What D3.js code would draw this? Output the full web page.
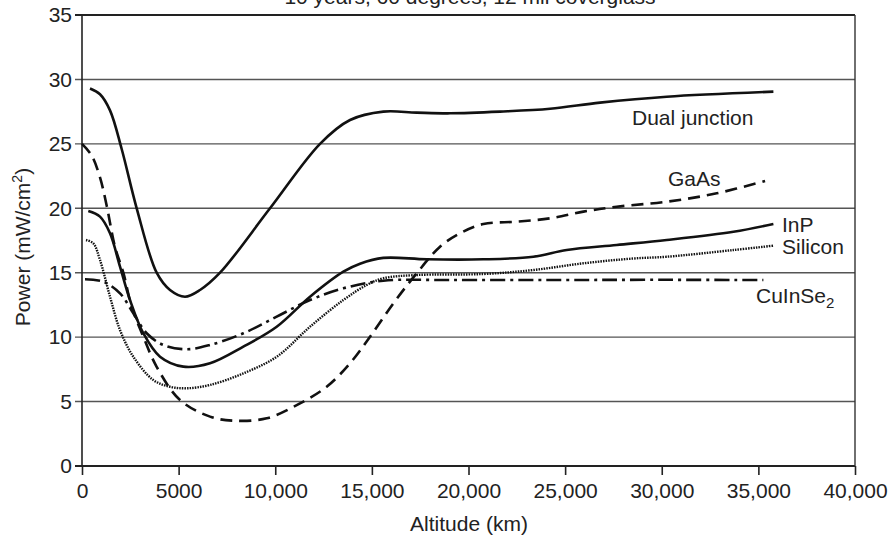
<!DOCTYPE html>
<html lang="en">
  <head>
    <meta charset="utf-8">
    <title>Power vs altitude</title>
    <style>
     body { margin: 0; background: #fff; }
     svg text { font-family: "Liberation Sans", Arial, sans-serif; fill: #222; }
    </style>
  </head>
  <body>
    <div id="plot"></div>
    <script src="https://d3js.org/d3.v7.min.js"></script>
    <script>
     // altitude (km) / power (mW/cm2)
     var dualKm = [414, 931, 1449, 2053, 2830, 3864, 4554, 5330, 6107, 7142, 9729, 12317, 13869, 15593, 17318, 19044, 21632, 24220, 26808, 30258, 35777];
     var dualP  = [29.3, 28.85, 27.6, 24.6, 20.0, 15.0, 13.66, 13.14, 13.66, 15.0, 20.0, 25.0, 26.85, 27.5, 27.42, 27.37, 27.5, 27.72, 28.2, 28.66, 29.05];

     var gaasKm = [0, 500, 931, 1278, 1707, 2139, 2570, 3174, 3864, 5071, 6624, 7831, 9557, 11282, 12662, 13869, 14904, 16110, 17318, 18527, 19562, 20769, 22494, 24220, 25945, 27670, 30258, 32845, 35346];
     var gaasP  = [25.0, 24.1, 22.4, 20.2, 17.0, 15.0, 12.36, 10.03, 7.7, 5.12, 3.83, 3.52, 3.7, 4.86, 6.15, 7.97, 10.03, 12.62, 14.95, 17.02, 18.06, 18.78, 18.96, 19.22, 19.74, 20.12, 20.51, 21.16, 22.12];

     var inpKm = [326, 931, 1449, 1967, 2484, 3174, 4037, 5243, 6624, 8349, 10075, 11800, 13524, 14387, 15593, 17836, 20769, 23357, 25083, 27670, 30258, 33710, 35777];
     var inpP  = [19.79, 19.35, 18.06, 15.47, 12.88, 10.3, 8.48, 7.71, 7.97, 9.26, 10.81, 13.14, 15.08, 15.7, 16.15, 16.04, 16.04, 16.24, 16.76, 17.15, 17.54, 18.18, 18.78];

     var siKm = [207, 585, 931, 1449, 1967, 2656, 3692, 4554, 5416, 6624, 8349, 10075, 11800, 13524, 14732, 15593, 17318, 20769, 23357, 25945, 28500, 30258, 33710, 35777];
     var siP  = [17.54, 17.28, 15.99, 13.14, 10.55, 8.48, 6.67, 6.15, 6.03, 6.29, 7.19, 8.48, 10.81, 12.88, 14.05, 14.57, 14.82, 14.9, 15.21, 15.73, 16.1, 16.24, 16.76, 17.1];

     var cisKm = [155, 1102, 1967, 2656, 3346, 4209, 5416, 6624, 8349, 10075, 11800, 13524, 15593, 19044, 24220, 29395, 35259];
     var cisP  = [14.49, 14.3, 13.4, 11.85, 10.3, 9.39, 9.06, 9.39, 10.3, 11.59, 12.88, 13.79, 14.38, 14.43, 14.43, 14.45, 14.43];

     var xTicks = [0, 5000, 10000, 15000, 20000, 25000, 30000, 35000, 40000];
     var yTicks = [0, 5, 10, 15, 20, 25, 30, 35];

     var series = [
       { km: dualKm, p: dualP, dash: null, width: 2.6 },
       { km: gaasKm, p: gaasP, dash: "12,7", width: 2.6 },
       { km: inpKm, p: inpP, dash: null, width: 2.6 },
       { km: siKm, p: siP, dash: "1.5,1.1", width: 2.4 },
       { km: cisKm, p: cisP, dash: "15,5,3,5", width: 2.6 }
     ];

     var W = 891, H = 537,
         margin = {top: 15, right: 36, bottom: 71, left: 82},
         w = W - margin.left - margin.right,
         h = H - margin.top - margin.bottom;

     var svg = d3.select("#plot").append("svg")
                 .attr("width", W).attr("height", H);

     // title is cropped at the top edge, as in the source figure
     svg.append("text")
        .attr("x", 470).attr("y", 4)
        .attr("text-anchor", "middle")
        .style("font-size", "21px")
        .text("10 years, 60 degrees, 12 mil coverglass");

     var g = svg.append("g").attr("transform", "translate(" + margin.left + "," + margin.top + ")");

     var x = d3.scaleLinear().domain([0, 40000]).range([0, w]);
     var y = d3.scaleLinear().domain([0, 35]).range([h, 0]);

     // horizontal grid
     g.selectAll(".grid").data(yTicks).enter().append("line")
      .attr("x1", -7).attr("x2", w)
      .attr("y1", function(d) { return y(d); })
      .attr("y2", function(d) { return y(d); })
      .attr("stroke", function(d) { return (d === 0 || d === 35) ? "#222" : "#555"; })
      .attr("stroke-width", function(d) { return (d === 0 || d === 35) ? 2 : 1.4; });

     // frame sides
     g.append("line").attr("x1", 0).attr("x2", 0).attr("y1", 0).attr("y2", h)
      .attr("stroke", "#222").attr("stroke-width", 1.6);
     g.append("line").attr("x1", w).attr("x2", w).attr("y1", 0).attr("y2", h)
      .attr("stroke", "#333").attr("stroke-width", 1.4);

     var xAxis = d3.axisBottom(x).tickValues(xTicks).tickSize(9).tickPadding(8)
                   .tickFormat(function(d) { return d < 10000 ? String(d) : d3.format(",")(d); });
     var xg = g.append("g").attr("transform", "translate(0," + h + ")").call(xAxis);
     xg.select(".domain").remove();
     xg.selectAll("line").attr("stroke", "#222").attr("stroke-width", 1.6);
     xg.selectAll("text").style("font-size", "21px").attr("fill", "#222");

     g.selectAll(".ylab").data(yTicks).enter().append("text")
      .attr("x", -10)
      .attr("y", function(d) { return y(d); })
      .attr("dy", "0.35em")
      .attr("text-anchor", "end")
      .style("font-size", "21px")
      .text(function(d) { return d; });

     var line = d3.line()
                  .x(function(d) { return x(d[0]); })
                  .y(function(d) { return y(d[1]); })
                  .curve(d3.curveCatmullRom.alpha(0.5));

     series.forEach(function(s) {
       var pts = s.km.map(function(k, i) { return [k, s.p[i]]; });
       g.append("path")
        .attr("d", line(pts))
        .attr("fill", "none")
        .attr("stroke", "#111")
        .attr("stroke-width", s.width)
        .attr("stroke-dasharray", s.dash);
     });

     // curve labels
     var labels = [
       { t: "Dual junction", x: 632, y: 125 },
       { t: "GaAs", x: 668, y: 186 },
       { t: "InP", x: 782, y: 232 },
       { t: "Silicon", x: 782, y: 254 }
     ];
     labels.forEach(function(l) {
       svg.append("text").attr("x", l.x).attr("y", l.y)
          .style("font-size", "21px").text(l.t);
     });
     var cis = svg.append("text").attr("x", 756).attr("y", 303).style("font-size", "21px");
     cis.append("tspan").text("CuInSe");
     cis.append("tspan").attr("dy", 5).style("font-size", "15px").text("2");

     svg.append("text")
        .attr("x", 469).attr("y", 531)
        .attr("text-anchor", "middle")
        .style("font-size", "21px")
        .text("Altitude (km)");

     var yl = svg.append("text")
                 .attr("transform", "translate(30,247) rotate(-90)")
                 .attr("text-anchor", "middle")
                 .style("font-size", "21px");
     yl.append("tspan").text("Power (mW/cm");
     yl.append("tspan").attr("dy", -8).style("font-size", "14px").text("2");
     yl.append("tspan").attr("dy", 8).text(")");
    </script>
  </body>
</html>
